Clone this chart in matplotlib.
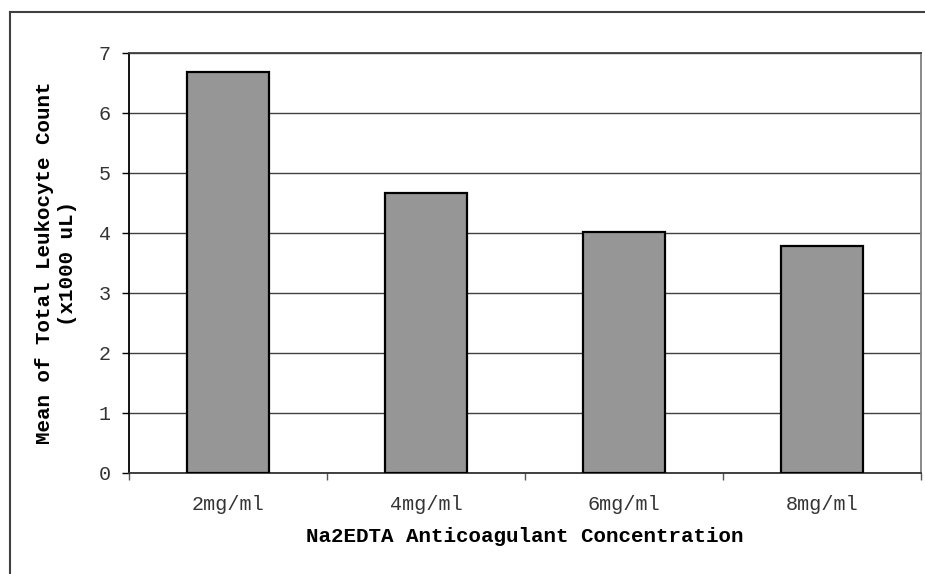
import matplotlib.pyplot as plt
from matplotlib.lines import Line2D
import numpy as np

plt.rcParams["font.family"] = ["Liberation Mono", "DejaVu Sans Mono"]

categories = ["2mg/ml", "4mg/ml", "6mg/ml", "8mg/ml"]
leukocyte_means = [6.68, 4.67, 4.02, 3.78]
y_ticks = [0, 1, 2, 3, 4, 5, 6, 7]

W, H = 925, 574
fig = plt.figure(figsize=(W / 100, H / 100), dpi=100)
ax = fig.add_axes([129 / W, 1 - 473 / H, (921 - 129) / W, (473 - 53) / H])

x = np.arange(len(categories))
ax.bar(x, leukocyte_means, width=0.41, color="#969696", edgecolor="black",
       linewidth=1.6, zorder=3)

ax.set_xlim(-0.5, len(categories) - 0.5)
ax.set_ylim(0, 7)
ax.set_yticks(y_ticks)
ax.set_yticklabels([str(v) for v in y_ticks], fontsize=14.5, color="#333333")
ax.yaxis.grid(True, color="#404040", linewidth=1.0, zorder=0)
ax.set_axisbelow(True)

# category labels sit between the boundary ticks
ax.set_xticks(np.arange(-0.5, len(categories), 1.0))
ax.set_xticklabels([])
ax.set_xticks(x, minor=True)
ax.set_xticklabels(categories, minor=True, fontsize=14.5, color="#333333")
ax.tick_params(axis="x", which="minor", length=0, pad=16)
ax.tick_params(axis="x", which="major", length=5, width=1.0, color="#555555")
ax.tick_params(axis="y", length=5, width=1.0, pad=8)

ax.spines["left"].set_color("black")
ax.spines["bottom"].set_color("#333333")
ax.spines["top"].set_color("#404040")
ax.spines["right"].set_color("#808080")
for s in ax.spines.values():
    s.set_linewidth(1.3)

ax.set_xlabel("Na2EDTA Anticoagulant Concentration", fontsize=15,
              fontweight="bold", labelpad=9)
ax.set_ylabel("Mean of Total Leukocyte Count\n(x1000 uL)", fontsize=15,
              fontweight="bold", labelpad=16, linespacing=1.25)

# outer frame (only left and top edges visible in the crop)
fig.add_artist(Line2D([10 / W, 10 / W], [0, 1 - 11.5 / H], color="#404040",
                      linewidth=1.5, transform=fig.transFigure))
fig.add_artist(Line2D([10 / W, 1], [1 - 11.5 / H, 1 - 11.5 / H], color="#404040",
                      linewidth=1.5, transform=fig.transFigure))

fig.savefig("out.png", dpi=100)
